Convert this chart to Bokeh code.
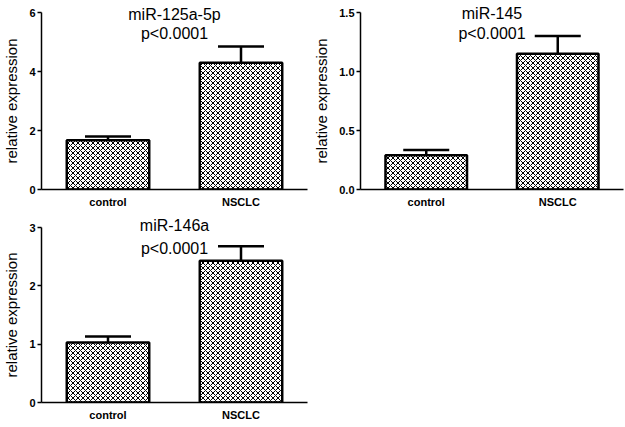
from bokeh.plotting import figure
from bokeh.layouts import column, row
from bokeh.models import (ColumnDataSource, Range1d, FactorRange, Label, FixedTicker,
                          Whisker, TeeHead, Title)
from bokeh.embed import file_html
from bokeh.resources import INLINE

# ---- data ----
groups = ["control", "NSCLC"]
titles = ["miR-125a-5p", "miR-145", "miR-146a"]
pvalue = "p<0.0001"
means = [[1.67, 4.30], [0.29, 1.15], [1.03, 2.43]]
upper = [[1.80, 4.85], [0.335, 1.30], [1.13, 2.68]]
ymaxs = [6, 1.5, 3]
ticks = [[0, 2, 4, 6], [0, 0.5, 1.0, 1.5], [0, 1, 2, 3]]
tick_fmt = ["{:.0f}", "{:.1f}", "{:.0f}"]

FONT = "Liberation Sans"


def make(i, width, height, bl, br, bt, bb, title_standoff):
    p = figure(width=width, height=height, x_range=FactorRange(*groups, range_padding=0),
               y_range=Range1d(0, ymaxs[i]), output_backend="svg", toolbar_location=None,
               min_border_left=bl, min_border_right=br, min_border_top=bt, min_border_bottom=bb)
    p.outline_line_color = None
    p.grid.visible = False
    p.background_fill_color = "white"
    src = ColumnDataSource(dict(g=groups, m=means[i], u=upper[i]))
    p.vbar(x="g", top="m", width=0.62, source=src, fill_color="white",
           hatch_pattern="diagonal_cross", hatch_color="black", hatch_scale=5, hatch_weight=1,
           line_color="black", line_width=2.5)
    w = Whisker(base="g", upper="u", lower="m", source=src, dimension="height",
                line_color="black", line_width=2.5,
                upper_head=TeeHead(size=46, line_color="black", line_width=2.5),
                lower_head=None)
    p.add_layout(w)
    # y axis
    p.yaxis.ticker = FixedTicker(ticks=ticks[i])
    p.yaxis.major_label_overrides = {t: tick_fmt[i].format(t) for t in ticks[i]}
    p.yaxis.minor_tick_line_color = None
    p.yaxis.major_tick_out = 4
    p.yaxis.major_tick_in = 0
    p.yaxis.major_tick_line_width = 1.5
    p.yaxis.major_tick_line_color = "black"
    p.yaxis.axis_line_width = 1.5
    p.yaxis.axis_label = "relative expression"
    p.yaxis.axis_label_text_font = FONT
    p.yaxis.axis_label_text_font_style = "normal"
    p.yaxis.axis_label_text_font_size = "15px"
    p.yaxis.axis_label_standoff = 6
    p.yaxis.major_label_text_font = FONT
    p.yaxis.major_label_text_font_style = "bold"
    p.yaxis.major_label_text_font_size = "11px"
    p.yaxis.major_label_standoff = 2
    # x axis
    p.xaxis.major_tick_line_color = None
    p.xaxis.major_tick_out = 0
    p.xaxis.major_tick_in = 0
    p.xaxis.minor_tick_line_color = None
    p.xaxis.axis_line_width = 1.5
    p.xaxis.major_label_text_font = FONT
    p.xaxis.major_label_text_font_style = "bold"
    p.xaxis.major_label_text_font_size = "11px"
    p.xaxis.major_label_standoff = 6
    for ax in (p.xaxis[0], p.yaxis[0]):
        ax.axis_line_color = "black"
        ax.major_label_text_color = "black"
        ax.axis_label_text_color = "black"
    # titles
    p.add_layout(Title(text=titles[i], align="center", vertical_align="bottom",
                       standoff=title_standoff, text_font=FONT, text_font_style="normal",
                       text_font_size="16px", text_color="black"), "above")
    p.add_layout(Label(x=1.0, y=ymaxs[i], text=pvalue, text_align="center",
                       text_baseline="alphabetic", y_offset=-21, text_font=FONT,
                       text_font_size="16px", text_color="black"))
    return p

f1 = make(0, 310, 210, 38, 3, 12, 21, -20)
f2 = make(1, 314, 210, 49, 1, 12, 21, -18)
f3 = make(2, 310, 216, 38, 3, 17, 24, -13)

layout = column(row(f1, f2), row(f3))
open("out.html", "w").write(file_html(layout, INLINE))
